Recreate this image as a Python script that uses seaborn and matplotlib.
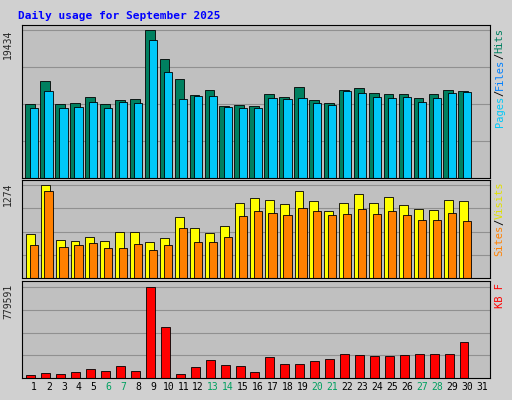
import matplotlib
matplotlib.use("Agg")
import matplotlib.pyplot as plt
import seaborn as sns
import pandas as pd
import numpy as np

days = list(range(1, 31))
hits = [9782,12730,9782,9916,10586,9782,10184,10318,19434,15678,12998,10854,11524,9514,9648,
        9514,10988,10586,11926,10184,9916,11524,11792,11122,10988,10988,10452,10988,11524,11390]
files = [9246,11390,9246,9380,10050,9246,10050,9916,18090,13936,10318,10720,10720,9380,9246,
         9246,10452,10318,10452,9916,9648,11390,11122,10586,10452,10586,10050,10452,11122,11256]
visits = [609,1274,526,512,568,512,637,637,499,554,831,692,623,706,1025,1094,1066,1011,1191,1053,
          914,1025,1150,1025,1108,997,942,928,1066,1053]
sites = [457,1191,429,457,485,415,415,471,388,457,692,499,499,568,845,914,886,859,956,914,
         859,873,942,873,914,859,789,789,886,776]
kbytes = [25700,42800,34300,51400,77100,60000,102800,60000,779591,436900,34300,94200,154200,111400,
          102800,51400,179900,119900,119900,145600,162800,205600,197000,188500,188500,197000,
          205600,205600,205600,308400]
xlabels = [str(d) for d in range(1, 32)]
weekend = {6, 7, 13, 14, 20, 21, 27, 28}

sns.set_style("white")
plt.rcParams['font.family'] = ['DejaVu Sans Mono']
fig = plt.figure(figsize=(5.12, 4.0), dpi=100, facecolor="#D0D0D0")
fig.text(0.035, 0.972, "Daily usage for September 2025", color="#0000FF",
         fontsize=8, fontweight="bold", va="top")

L, W = 22/512, 468/512
axs = [fig.add_axes([L, 1-178/400, W, 153/400]),
       fig.add_axes([L, 1-278/400, W, 98/400]),
       fig.add_axes([L, 1-378/400, W, 97/400])]
d = np.array(days, dtype=float)

def bars(ax, xs, vals, width, color):
    df = pd.DataFrame({"x": xs, "y": vals})
    sns.barplot(data=df, x="x", y="y", native_scale=True, width=width, color=color,
                edgecolor="black", linewidth=0.6, ax=ax, saturation=1)

bars(axs[0], d-0.25, hits, 0.65, "#008060")
bars(axs[0], d-0.02, files, 0.55, "#00C8F8")
bars(axs[1], d-0.25, visits, 0.6, "#FFFF00")
bars(axs[1], d-0.02, sites, 0.55, "#FF8000")
bars(axs[2], d-0.2, kbytes, 0.6, "#FF0000")

maxes = [19434, 1274, 779591]
fr = [150/145, 97/92, 97/91]
for i, ax in enumerate(axs):
    ax.set_facecolor("#C0C0C0")
    ax.set_xlim(0.2, 31.54)
    ax.set_ylim(0, maxes[i]*fr[i])
    for q in (0.25, 0.5, 0.75, 1.0):
        ax.axhline(maxes[i]*q, color="#909090", lw=0.8, zorder=0)
    ax.set_yticks([]); ax.set_xticks([])
    ax.set_xlabel(""); ax.set_ylabel("")
    for s in ax.spines.values():
        s.set_color("black"); s.set_linewidth(0.8)
    ax.text(-0.03, 1-(5/ax.bbox.height*100/ax.figure.dpi) if False else 0.97, str(maxes[i]),
            transform=ax.transAxes, rotation=90, ha="center", va="top", fontsize=7)

axs[2].set_xticks(range(1, 32))
axs[2].set_xticklabels(xlabels, fontsize=7)
for t, day in zip(axs[2].get_xticklabels(), range(1, 32)):
    t.set_color("#00A060" if day in weekend else "black")
axs[2].tick_params(axis="x", length=0, pad=3)

def rlabel(ax, parts):
    y = 0.98
    for txt, col in parts:
        t = ax.text(1.012, y, txt, transform=ax.transAxes, rotation=90, ha="left",
                    va="top", fontsize=7.5, color=col)
        y -= len(txt)*0.062*(153/ax.bbox.height*100/100) if False else 0
    return

def stack(ax, parts, scale):
    y = 0.98
    for txt, col in parts:
        ax.text(1.01, y, txt, transform=ax.transAxes, rotation=90, ha="left",
                va="top", fontsize=7.5, color=col)
        y -= len(txt)*scale

stack(axs[0], [("Hits", "#008060"), ("/", "#000000"), ("Files", "#0080FF"),
               ("/", "#000000"), ("Pages", "#00C8F8")], 6.0/150)
stack(axs[1], [("Visits", "#E0E000"), ("/", "#000000"), ("Sites", "#FF8000")], 6.0/97)
stack(axs[2], [("KB F", "#FF0000")], 6.0/97)

fig.savefig("out.png", dpi=100, facecolor=fig.get_facecolor())
